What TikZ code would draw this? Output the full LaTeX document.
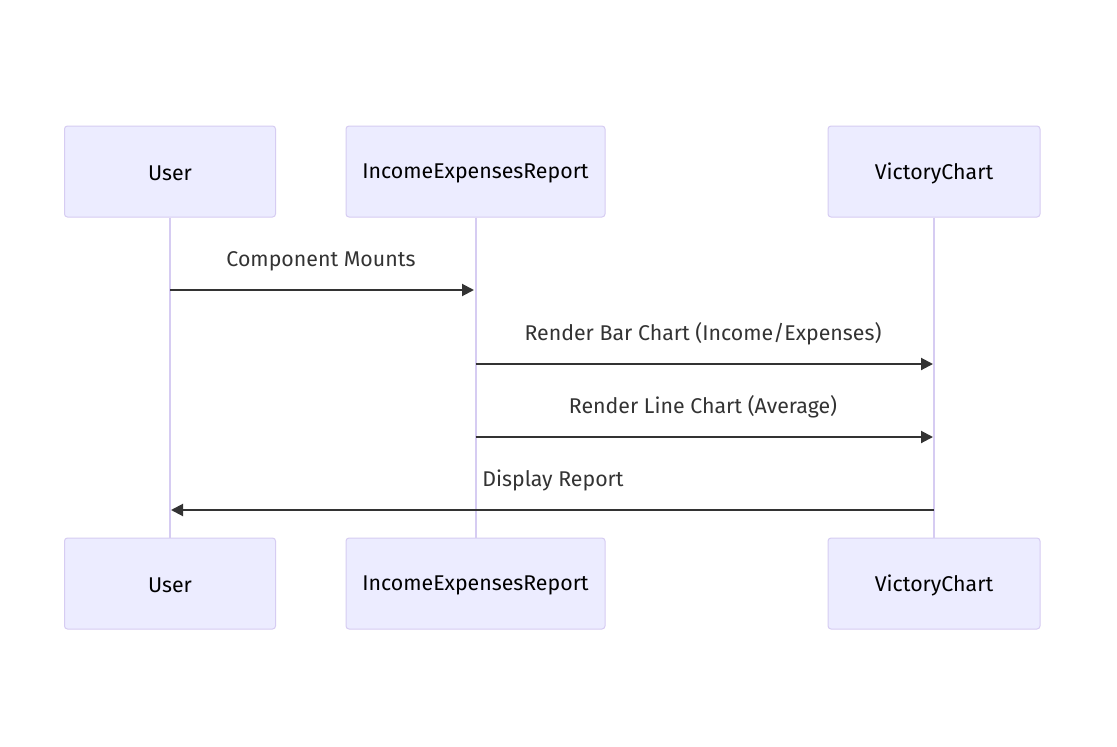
\documentclass[tikz,border=0pt]{standalone}
\usepackage{fontspec}
\setmainfont{Fira Sans}
\usetikzlibrary{arrows.meta}

\definecolor{actorfill}{HTML}{ECECFF}
\definecolor{actorline}{HTML}{D6CCF2}
\definecolor{msgtext}{HTML}{333333}

\begin{document}
\begin{tikzpicture}[x=0.75pt,y=-0.75pt,
  actor/.style={draw=actorline,fill=actorfill,line width=0.75pt,rounded corners=2.25pt,
    minimum height=68.25pt,inner sep=0pt,font=\fontsize{16}{18}\selectfont,text=black},
  lifeline/.style={draw=actorline,line width=1.5pt},
  msg/.style={draw=msgtext,line width=1.5pt,-{Triangle[length=9pt,width=9pt]}},
  msglabel/.style={font=\fontsize{16}{18}\selectfont,text=msgtext,inner sep=0pt}]

% Fond et marges
\fill[white] (0,0) rectangle (1117,746);
\useasboundingbox (0,0) rectangle (1117,746);

% Boites du haut
\node[actor,minimum width=158.25pt] (userTop) at (170,171.5) {};
\node[actor,minimum width=194.25pt] (reportTop) at (475.5,171.5) {};
\node[actor,minimum width=159pt] (chartTop) at (934,171.5) {};
\node[font=\fontsize{16}{18}\selectfont] (userTopTxt) at (170,173) {User};
\node[font=\fontsize{16}{18}\selectfont] (reportTopTxt) at (475.5,173) {IncomeExpensesReport};
\node[font=\fontsize{16}{18}\selectfont] (chartTopTxt) at (934,173) {VictoryChart};

% Boites du bas
\node[actor,minimum width=158.25pt] (userBot) at (170,583.5) {};
\node[actor,minimum width=194.25pt] (reportBot) at (475.5,583.5) {};
\node[actor,minimum width=159pt] (chartBot) at (934,583.5) {};
\node[font=\fontsize{16}{18}\selectfont] (userBotTxt) at (170,585) {User};
\node[font=\fontsize{16}{18}\selectfont] (reportBotTxt) at (475.5,585) {IncomeExpensesReport};
\node[font=\fontsize{16}{18}\selectfont] (chartBotTxt) at (934,585) {VictoryChart};

% Lignes de vie
\draw[lifeline] (userTop) -- (userBot);
\draw[lifeline] (reportTop) -- (reportBot);
\draw[lifeline] (chartTop) -- (chartBot);

% Points des messages
\coordinate (userA) at (170,290);
\coordinate (reportA) at (474,290);
\coordinate (reportB) at (475.5,364);
\coordinate (chartB) at (933,364);
\coordinate (reportC) at (475.5,437);
\coordinate (chartC) at (933,437);
\coordinate (chartD) at (934,510);
\coordinate (userD) at (171,510);

% Messages
\draw[msg] (userA) -- (reportA);
\draw[msg] (reportB) -- (chartB);
\draw[msg] (reportC) -- (chartC);
\draw[msg] (chartD) -- (userD);

% Textes des messages
\node[msglabel] (lblMount) at (321,261) {Component Mounts};
\node[msglabel] (lblBar) at (703,334) {Render Bar Chart (Income/Expenses)};
\node[msglabel] (lblLine) at (703,407) {Render Line Chart (Average)};
\node[msglabel] (lblDisplay) at (553,480) {Display Report};

\end{tikzpicture}
\end{document}
